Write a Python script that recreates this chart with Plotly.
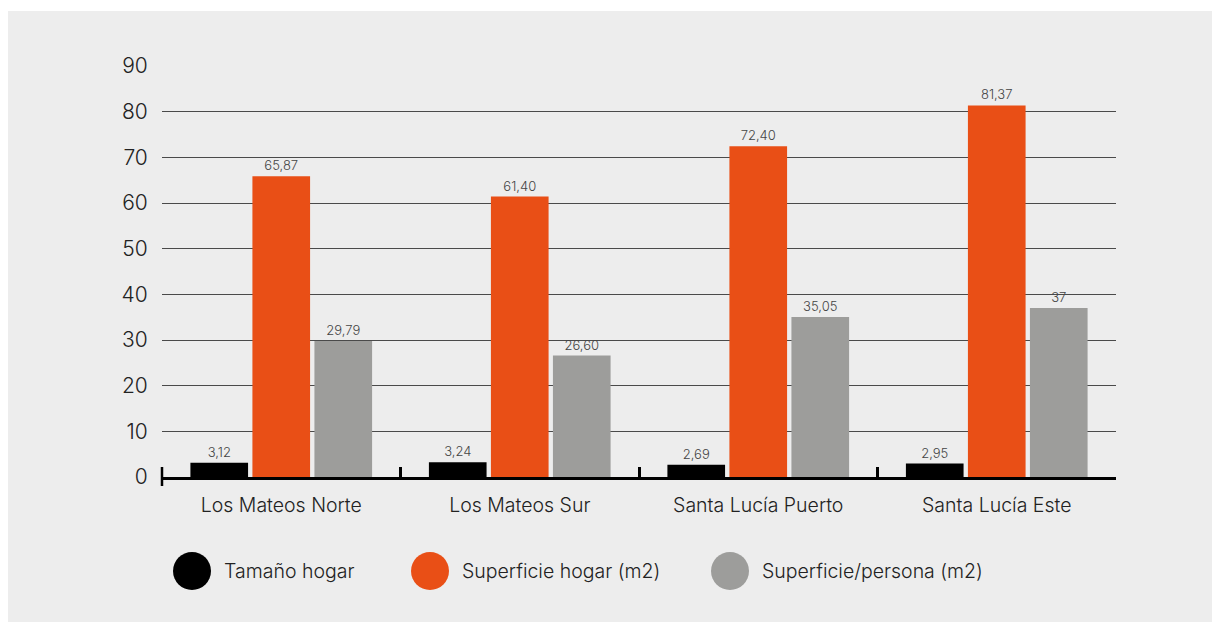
import plotly.graph_objects as go

barrios = ["Los Mateos Norte", "Los Mateos Sur", "Santa Lucía Puerto", "Santa Lucía Este"]

tamano_hogar = [3.12, 3.24, 2.69, 2.95]
superficie_hogar = [65.87, 61.40, 72.40, 81.37]
superficie_persona = [29.79, 26.60, 35.05, 37]

tamano_txt = ["3,12", "3,24", "2,69", "2,95"]
hogar_txt = ["65,87", "61,40", "72,40", "81,37"]
persona_txt = ["29,79", "26,60", "35,05", "37"]

series = [
    ("Tamaño hogar", tamano_hogar, tamano_txt, "#000000"),
    ("Superficie hogar (m2)", superficie_hogar, hogar_txt, "#E94F16"),
    ("Superficie/persona (m2)", superficie_persona, persona_txt, "#9D9D9B"),
]

FONT = "Inter"
WEIGHT = 300

# the page adds 8px of body margin, so the figure is 8px smaller than the window
FW, FH = 1212, 614
OFF = 8
# plot area in window pixels, used to place the hand-drawn legend and panel
L, R, T, B = 162, 1116, 66, 477
W, H = R - L, B - T


def px_x(p):
    return (p - L) / W


def px_y(p):
    return (B - p) / H


fig = go.Figure()
for name, vals, txt, col in series:
    fig.add_trace(go.Bar(
        x=barrios, y=vals, name=name,
        marker=dict(color=col, line=dict(width=0)),
        text=txt, textposition="outside", cliponaxis=False,
        textfont=dict(family=FONT, size=13, color="#444444", weight=WEIGHT),
        showlegend=False,
    ))

shapes = [
    # grey panel behind the chart
    dict(type="rect", xref="paper", yref="paper", layer="below",
         x0=px_x(0), x1=px_x(1240), y0=px_y(640), y1=px_y(11),
         fillcolor="#EDEDED", line=dict(width=0)),
    # small tick on the left below the axis
    dict(type="line", xref="paper", yref="paper",
         x0=0, x1=0, y0=px_y(486), y1=px_y(467),
         line=dict(color="#000000", width=2.5)),
]

annotations = []
legend_pos = [(192, 222), (430, 460), (730, 760)]
for (name, _, _, col), (cx, tx) in zip(series, legend_pos):
    shapes.append(dict(type="circle", xref="paper", yref="paper",
                       x0=px_x(cx - 19), x1=px_x(cx + 19),
                       y0=px_y(590), y1=px_y(552),
                       fillcolor=col, line=dict(width=0)))
    annotations.append(dict(xref="paper", yref="paper", x=px_x(tx), y=px_y(571),
                            text=name, showarrow=False, xanchor="left", yanchor="middle",
                            font=dict(family=FONT, size=19.5, color="#222222", weight=WEIGHT)))

fig.update_layout(
    width=FW, height=FH,
    margin=dict(l=L - OFF, r=FW - (R - OFF), t=T - OFF, b=FH - (B - OFF)),
    paper_bgcolor="#FFFFFF", plot_bgcolor="rgba(0,0,0,0)",
    barmode="group", bargap=0.22, bargroupgap=0.07,
    font=dict(family=FONT, color="#222222", weight=WEIGHT),
    shapes=shapes, annotations=annotations,
    showlegend=False,
)
fig.update_xaxes(
    showline=True, linecolor="#000000", linewidth=3,
    ticks="inside", tickson="boundaries", ticklen=10, tickwidth=2.5, tickcolor="#000000",
    tickfont=dict(family=FONT, size=19.5, color="#222222", weight=WEIGHT),
    ticklabelstandoff=9, showgrid=False,
)
fig.update_yaxes(
    range=[0, 90], dtick=10, showgrid=True, gridcolor="#4A4A4A", gridwidth=1,
    zeroline=False, showline=False,
    ticks="outside", ticklen=9, tickcolor="rgba(0,0,0,0)",
    tickfont=dict(family=FONT, size=21, color="#222222", weight=WEIGHT),
)

fig.write_html("out.html")
